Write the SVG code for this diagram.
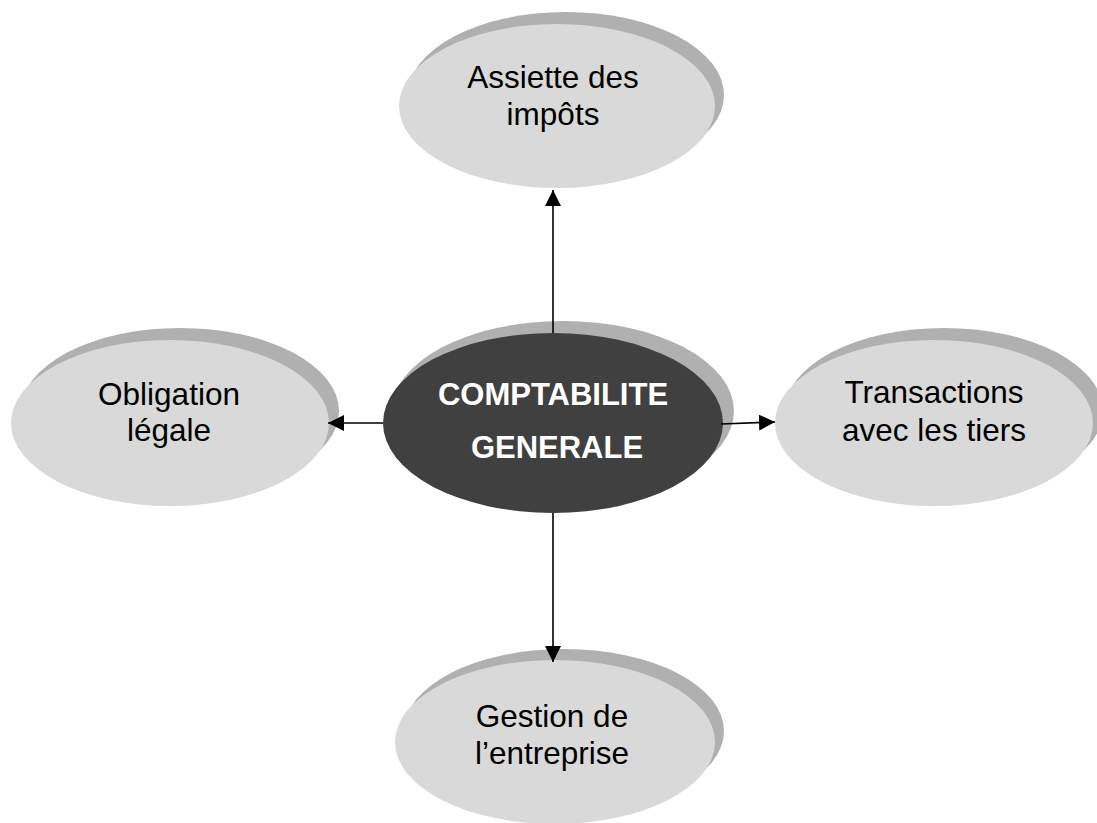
<svg xmlns="http://www.w3.org/2000/svg" width="1097" height="823" viewBox="0 0 1097 823">
<style>
.shadow{fill:#b0b0b0}
.light{fill:#d9d9d9}
.dark{fill:#404040}
.t{font-family:"Liberation Sans",Arial,sans-serif;font-size:31.5px;fill:#000;text-anchor:middle}
.tb{font-family:"Liberation Sans",Arial,sans-serif;font-size:31px;font-weight:bold;fill:#fff;text-anchor:middle}
.conn{stroke:#000;stroke-width:1.6;fill:none;marker-end:url(#arrow)}
</style>
<defs>
<marker id="arrow" markerUnits="userSpaceOnUse" markerWidth="16" markerHeight="16" viewBox="0 0 16 16" refX="16" refY="8" orient="auto">
<path d="M0,0 L16,8 L0,16 Z" fill="#000"/>
</marker>
</defs>
<g id="node-assiette">
<ellipse class="shadow" cx="566" cy="95" rx="158" ry="83"/>
<ellipse class="light" cx="557" cy="106" rx="158" ry="82"/>
<text class="t" x="553" y="88">Assiette des</text>
<text class="t" x="553" y="125">impôts</text>
</g>
<g id="node-obligation">
<ellipse class="shadow" cx="180" cy="411" rx="159" ry="83"/>
<ellipse class="light" cx="170" cy="423" rx="159" ry="83"/>
<text class="t" x="169" y="405">Obligation</text>
<text class="t" x="169" y="441">légale</text>
</g>
<g id="node-transactions">
<ellipse class="shadow" cx="944" cy="411" rx="159" ry="83"/>
<ellipse class="light" cx="934" cy="423" rx="159" ry="83"/>
<text class="t" x="934" y="403">Transactions</text>
<text class="t" x="934" y="441">avec les tiers</text>
</g>
<g id="node-gestion">
<ellipse class="shadow" cx="564" cy="731" rx="160" ry="82"/>
<ellipse class="light" cx="555" cy="742" rx="160" ry="82"/>
<text class="t" x="552" y="727">Gestion de</text>
<text class="t" x="552" y="764">l’entreprise</text>
</g>
<g id="node-comptabilite">
<ellipse class="shadow" cx="563" cy="411" rx="171" ry="90"/>
<ellipse class="dark" cx="553" cy="423" rx="170" ry="90"/>
<text class="tb" x="553" y="405">COMPTABILITE</text>
<text class="tb" x="557" y="458">GENERALE</text>
</g>
<g id="connectors">
<line class="conn" x1="553" y1="333" x2="553" y2="190"/>
<line class="conn" x1="383" y1="423" x2="328" y2="423"/>
<line class="conn" x1="721" y1="424" x2="775" y2="422"/>
<line class="conn" x1="553" y1="513" x2="553" y2="662"/>
</g>
</svg>
